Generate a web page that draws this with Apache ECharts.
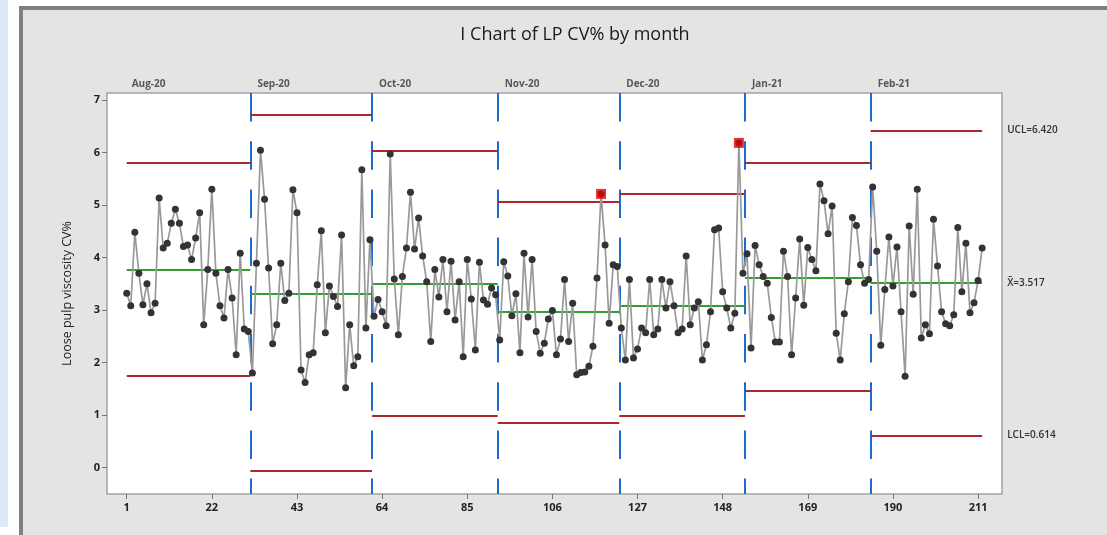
<!DOCTYPE html>
<html>
<head>
<meta charset="utf-8">
<title>I Chart of LP CV% by month</title>
<script src="https://cdn.jsdelivr.net/npm/echarts@6/dist/echarts.min.js"></script>
<style>
  html, body { margin: 0; padding: 0; background: #ffffff; }
  #chart { width: 1107px; height: 535px; }
</style>
</head>
<body>
<div id="chart"></div>
<script>
// Monthly stages of the individuals chart
const months = ['Aug-20', 'Sep-20', 'Oct-20', 'Nov-20', 'Dec-20', 'Jan-21', 'Feb-21'];

// Loose pulp viscosity CV% per observation, one array per month
const aug20 = [3.32, 3.08, 4.48, 3.70, 3.10, 3.50, 2.95, 3.13, 5.13, 4.18, 4.27, 4.65, 4.92, 4.65, 4.21, 4.24,
               3.96, 4.37, 4.85, 2.72, 3.77, 5.30, 3.70, 3.08, 2.85, 3.77, 3.23, 2.15, 4.08, 2.64, 2.59];
const sep20 = [1.80, 3.89, 6.04, 5.11, 3.80, 2.36, 2.72, 3.89, 3.18, 3.32, 5.29, 4.85, 1.86, 1.62, 2.15,
               2.19, 3.48, 4.51, 2.57, 3.46, 3.26, 3.07, 4.43, 1.52, 2.72, 1.94, 2.11, 5.67, 2.66, 4.34];
const oct20 = [2.88, 3.20, 2.97, 2.70, 5.97, 3.59, 2.53, 3.64, 4.18, 5.24, 4.16, 4.75, 4.03, 3.54, 2.40, 3.77,
               3.25, 3.96, 2.97, 3.93, 2.81, 3.54, 2.11, 3.96, 3.21, 2.24, 3.91, 3.19, 3.11, 3.42, 3.29];
const nov20 = [2.43, 3.92, 3.65, 2.89, 3.31, 2.19, 4.08, 2.87, 3.96, 2.59, 2.18, 2.37, 2.83, 2.99, 2.15,
               2.45, 3.58, 2.40, 3.13, 1.77, 1.81, 1.82, 1.93, 2.31, 3.61, 5.21, 4.24, 2.75, 3.86, 3.83];
const dec20 = [2.66, 2.05, 3.58, 2.09, 2.26, 2.66, 2.57, 3.58, 2.53, 2.64, 3.58, 3.04, 3.54, 3.08, 2.57, 2.64,
               4.03, 2.72, 3.04, 3.16, 2.05, 2.34, 2.97, 4.53, 4.56, 3.35, 3.04, 2.66, 2.94, 6.18, 3.70];
const jan21 = [4.07, 2.28, 4.23, 3.86, 3.64, 3.51, 2.86, 2.39, 2.39, 4.12, 3.64, 2.15, 3.23, 4.35, 3.09, 4.19,
               3.96, 3.75, 5.40, 5.08, 4.45, 4.98, 2.56, 2.05, 2.93, 3.54, 4.76, 4.61, 3.86, 3.51, 3.58];
const feb21 = [5.34, 4.12, 2.33, 3.39, 4.39, 3.46, 4.20, 2.97, 1.74, 4.60, 3.30, 5.30, 2.47, 2.72, 2.55, 4.73,
               3.84, 2.97, 2.74, 2.70, 2.91, 4.57, 3.35, 4.27, 2.95, 3.14, 3.56, 4.18];

// Control limits and centre line for each month
const ucl    = [5.80, 6.71, 6.03, 5.07, 5.22, 5.81, 6.420];
const center = [3.77, 3.31, 3.51, 2.97, 3.08, 3.62, 3.517];
const lcl    = [1.75, -0.06, 0.99, 0.86, 0.99, 1.46, 0.614];

// Axis tick labels
const xTicks = [1, 22, 43, 64, 85, 106, 127, 148, 169, 190, 211];
const yTicks = [0, 1, 2, 3, 4, 5, 6, 7];

// ---- build series data ----
const stages = [aug20, sep20, oct20, nov20, dec20, jan21, feb21];
const points = [];
const ranges = [];
let obs = 1;
stages.forEach((vals, s) => {
  const first = obs;
  vals.forEach(v => { points.push([obs, v, s]); obs++; });
  ranges.push([first, obs - 1]);
});
const nObs = obs - 1;
const last = stages.length - 1;

const X_MIN = -3.86, X_MAX = 216.9;
const Y_MIN = -0.5, Y_MAX = 7.13;

const span = s => [Math.max(1, ranges[s][0] - 0.5), Math.min(nObs, ranges[s][1] + 0.5)];
const boundaries = ranges.slice(1).map(r => r[0] - 0.5);
const flagged = points.filter(p => p[1] > ucl[p[2]] || p[1] < lcl[p[2]]);

const limitLabel = (text) => ({
  show: true, position: 'end', distance: 25, formatter: text,
  fontFamily: 'Open Sans', fontSize: 10, fontWeight: 600, color: '#333'
});

function hLines(values, color, labelText) {
  return values.map((v, s) => {
    const [a, b] = span(s);
    const item = [
      { coord: [a, v], lineStyle: { color: color, width: 2, type: 'solid' } },
      { coord: [b, v] }
    ];
    item[0].label = s === last ? limitLabel(labelText) : { show: false };
    return item;
  });
}

const chart = echarts.init(document.getElementById('chart'), null, { renderer: 'canvas' });

chart.setOption({
  animation: false,
  backgroundColor: '#ffffff',
  graphic: [
    { type: 'rect', z: -10, silent: true, shape: { x: 0, y: 0, width: 8, height: 527 }, style: { fill: '#dde9f6' } },
    { type: 'rect', z: -10, silent: true, shape: { x: 21, y: 8, width: 1100, height: 540 },
      style: { fill: '#e4e4e4', stroke: '#808080', lineWidth: 4 } }
  ],
  title: {
    text: 'I Chart of LP CV% by month',
    left: 570, top: 21, textAlign: 'center',
    textStyle: { fontFamily: 'Open Sans', fontSize: 18, fontWeight: 'normal', color: '#1a1a1a' }
  },
  grid: {
    left: 107, right: 105, top: 93, bottom: 41,
    show: true, backgroundColor: '#ffffff', borderColor: '#a3a3a3', borderWidth: 1.5
  },
  xAxis: {
    type: 'value', min: X_MIN, max: X_MAX,
    axisLine: { show: false, onZero: false },
    splitLine: { show: false },
    axisTick: { show: true, customValues: xTicks, length: 5, lineStyle: { color: '#777', width: 1 } },
    axisLabel: { customValues: xTicks, margin: 8, fontFamily: 'Open Sans', fontSize: 11, fontWeight: 700, color: '#222' }
  },
  yAxis: {
    type: 'value', min: Y_MIN, max: Y_MAX,
    name: 'Loose pulp viscosity CV%', nameLocation: 'middle', nameGap: 33, nameRotate: 90,
    nameTextStyle: { fontFamily: 'Open Sans', fontSize: 12.5, color: '#222' },
    axisLine: { show: false, onZero: false },
    splitLine: { show: false },
    axisTick: { show: true, customValues: yTicks, length: 5, lineStyle: { color: '#777', width: 1 } },
    axisLabel: { customValues: yTicks, margin: 7, fontFamily: 'Open Sans', fontSize: 11, fontWeight: 700, color: '#222' }
  },
  series: [
    {
      // stage boundaries
      type: 'line', data: [], silent: true,
      markLine: {
        silent: true, symbol: 'none', animation: false,
        label: { show: false },
        lineStyle: { color: '#1d6bcc', width: 2, type: [28.5, 19.7] },
        data: boundaries.map(b => [{ coord: [b, Y_MAX] }, { coord: [b, Y_MIN] }])
      }
    },
    {
      // control limits
      type: 'line', data: [], silent: true,
      markLine: {
        silent: true, symbol: 'none', animation: false,
        data: hLines(ucl, '#a82a2a', 'UCL=' + ucl[last].toFixed(3))
          .concat(hLines(lcl, '#a82a2a', 'LCL=' + lcl[last].toFixed(3)))
      }
    },
    {
      // centre lines
      type: 'line', data: [], silent: true,
      markLine: {
        silent: true, symbol: 'none', animation: false,
        data: hLines(center, '#30a030', 'X\u0304=' + center[last].toFixed(3))
      }
    },
    {
      name: 'LP CV%',
      type: 'line', z: 5,
      data: points.map(p => [p[0], p[1]]),
      symbol: 'circle', symbolSize: 7, showAllSymbol: true,
      itemStyle: { color: '#333333' },
      lineStyle: { color: '#999999', width: 1.7 }
    },
    {
      // observations beyond the limits
      type: 'scatter', z: 6,
      data: flagged.map(p => [p[0], p[1]]),
      symbol: 'rect', symbolSize: 10,
      itemStyle: { color: '#e00000', borderWidth: 0 }
    },
    {
      // month captions above each stage
      type: 'scatter', z: 7, silent: true,
      data: ranges.map(r => [r[0], Y_MAX]),
      symbolSize: 0,
      label: {
        show: true, position: [5, -9], align: 'left', verticalAlign: 'middle',
        formatter: p => months[p.dataIndex],
        fontFamily: 'Open Sans', fontSize: 10, fontWeight: 700, color: '#333'
      }
    }
  ]
});
</script>
</body>
</html>
